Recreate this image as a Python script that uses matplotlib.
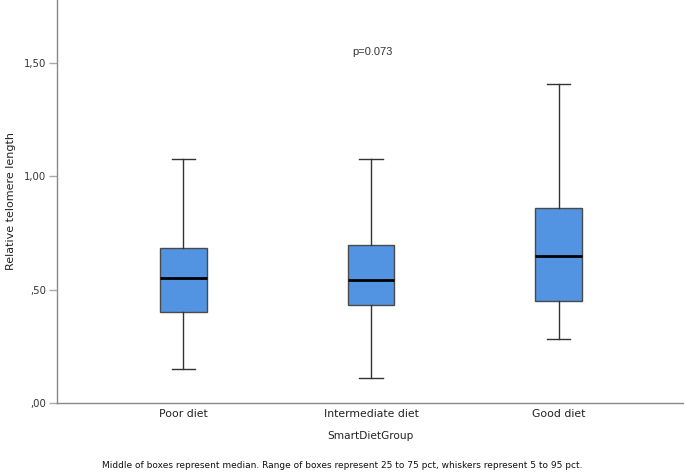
import matplotlib
matplotlib.use("Agg")
import matplotlib.pyplot as plt

categories = ["Poor diet", "Intermediate diet", "Good diet"]
whislo = [0.150, 0.110, 0.281]
q1 = [0.400, 0.431, 0.451]
med = [0.550, 0.544, 0.649]
q3 = [0.684, 0.698, 0.859]
whishi = [1.078, 1.078, 1.407]
yticks = [0.0, 0.5, 1.0, 1.5]
ytick_labels = [",00", ",50", "1,00", "1,50"]

fig = plt.figure(figsize=(6.85, 4.72), dpi=100)
ax = fig.add_axes([57.5 / 685, 69 / 472, (683 - 57.5) / 685, 403 / 472])

stats = []
for i, c in enumerate(categories):
    stats.append(dict(label=c, whislo=whislo[i], q1=q1[i], med=med[i],
                      q3=q3[i], whishi=whishi[i], fliers=[]))

ax.bxp(stats, positions=range(len(categories)), widths=0.25,
       capwidths=0.123, patch_artist=True, showfliers=False,
       boxprops=dict(facecolor="#5294e2", edgecolor="#4a4a4a", linewidth=1.0),
       medianprops=dict(color="black", linewidth=2.0),
       whiskerprops=dict(color="#333333", linewidth=1.0),
       capprops=dict(color="#333333", linewidth=1.0))

ax.set_xlim(-0.669, 2.661)
ax.set_ylim(0, 1.778)
ax.set_yticks(yticks)
ax.set_yticklabels(ytick_labels, fontsize=7.3, color="#333333")
ax.set_xticks(range(len(categories)))
ax.set_xticklabels(categories, fontsize=7.8, color="#222222")
ax.tick_params(axis="x", length=0, pad=4)
ax.tick_params(axis="y", length=5.8, color="#aaaaaa", width=1, pad=2.2)

for s in ["top", "right"]:
    ax.spines[s].set_visible(False)
for s in ["left", "bottom"]:
    ax.spines[s].set_color("#888888")
    ax.spines[s].set_linewidth(1.0)

ax.set_ylabel("Relative telomere length", fontsize=8, color="#222222")
ax.yaxis.set_label_coords(-0.066, 0.5)
ax.set_xlabel("SmartDietGroup", fontsize=7.6, color="#222222", labelpad=9)

ax.text(1.01, 1.55, "p=0.073", ha="center", va="center", fontsize=8,
        family="Liberation Sans", color="#333333")

fig.text(342 / 685, 1 - 465 / 472,
         "Middle of boxes represent median. Range of boxes represent 25 to 75 pct, whiskers represent 5 to 95 pct.",
         ha="center", va="center", fontsize=6.5, color="#111111")

fig.savefig("out.png", dpi=100)
